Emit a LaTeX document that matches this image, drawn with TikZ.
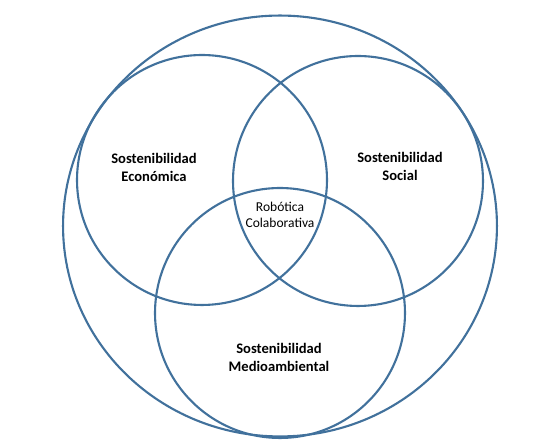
\documentclass[tikz,border=0pt]{standalone}
\usepackage{fontspec}
\setmainfont{Carlito}
\usepackage{xcolor}
\usepackage{tikz}
\usetikzlibrary{shapes,positioning}

\definecolor{ringblue}{RGB}{65,113,156}

\begin{document}
\begin{tikzpicture}[
    x=0.02cm, y=-0.02cm,
    ring/.style={circle, draw=ringblue, line width=1.2pt, inner sep=0pt, minimum size=5cm},
    outer/.style={ellipse, draw=ringblue, line width=1.2pt, inner sep=0pt, minimum width=8.68cm, minimum height=8.42cm},
    label/.style={align=center, font=\fontsize{8.3}{10.3}\selectfont\bfseries},
    core/.style={align=center, font=\fontsize{7.7}{8.9}\selectfont}
]
\useasboundingbox (0,0) rectangle (556,448);

% Outer boundary
\node[outer] (whole) at (280,226) {};

% Three pillars
\node[ring] (eco) at (202,180) {};
\node[ring] (soc) at (358,181) {};
\node[ring] (env) at (280,313) {};

% Labels
\node[label] (ecotext) at (154,167) {Sostenibilidad\\Económica};
\node[label] (soctext) at (400,166) {Sostenibilidad\\Social};
\node[label] (envtext) at (279,357) {Sostenibilidad\\Medioambiental};
\node[core] (robot) at (280,215) {Robótica\\Colaborativa};

\end{tikzpicture}
\end{document}
